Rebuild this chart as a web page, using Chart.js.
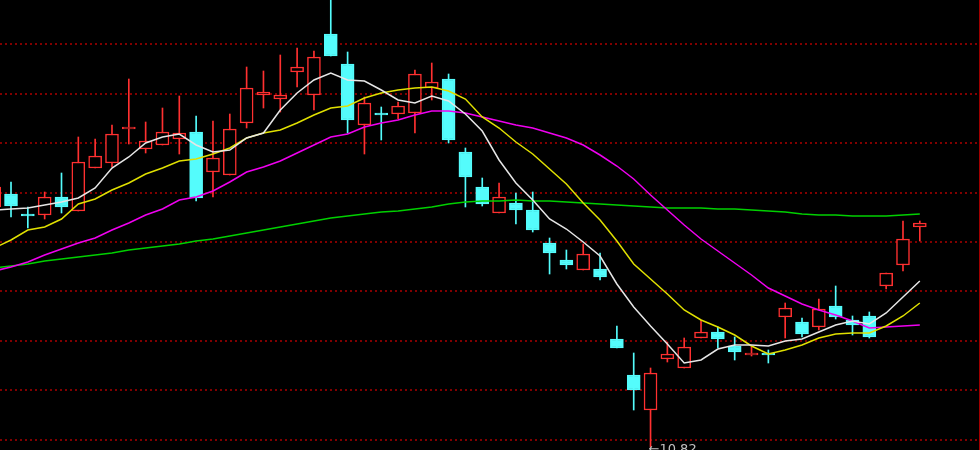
<!DOCTYPE html>
<html lang="zh">
<head>
<meta charset="UTF-8">
<title>K线图</title>
<script src="https://cdn.jsdelivr.net/npm/chart.js"></script>
<style>
  html, body { margin: 0; padding: 0; background: #000; }
  #wrap { width: 980px; height: 450px; position: relative; }
</style>
</head>
<body>
<div id="wrap"><canvas id="kline"></canvas></div>
<script>
// K线数据（第一根只露出一点边）
const opens  = [13.22,13.35,13.15,13.14,13.32,13.18,13.61,13.66,14.00,13.80,13.84,13.90,13.97,13.57,13.54,14.06,14.34,14.30,14.57,14.34,
                14.95,14.65,14.04,14.16,14.15,14.16,14.41,14.50,13.77,13.42,13.16,13.26,13.19,12.86,12.69,12.59,12.60,11.90,11.54,11.19,
                11.70,11.61,11.91,11.97,11.83,11.74,11.76,12.12,12.07,12.02,12.23,12.09,12.13,12.43,12.64,13.02];
const highs  = [13.47,13.47,13.22,13.37,13.56,13.92,13.90,14.04,14.50,14.07,14.21,14.33,14.13,14.08,14.15,14.62,14.58,14.74,14.81,14.78,
                15.29,14.77,14.32,14.22,14.27,14.59,14.66,14.55,13.81,13.51,13.46,13.36,13.37,12.91,12.79,12.85,12.76,12.03,11.76,11.61,
                11.87,11.91,12.09,12.02,11.92,11.82,11.79,12.26,12.11,12.30,12.43,12.13,12.17,12.56,13.08,13.08];
const lows   = [13.17,13.12,13.01,13.10,13.16,13.18,13.61,13.62,13.85,13.76,13.84,13.75,13.28,13.32,13.54,14.01,14.21,14.17,14.42,14.19,
                14.73,13.96,13.75,13.89,14.10,13.96,14.29,13.86,13.22,13.23,13.16,13.05,12.97,12.55,12.60,12.59,12.49,11.81,11.19,10.82,
                11.67,11.61,11.91,11.81,11.69,11.73,11.66,11.91,11.92,11.99,12.10,11.94,11.91,12.40,12.58,12.88];
const closes = [13.42,13.23,13.13,13.32,13.22,13.67,13.73,13.95,14.02,13.88,13.97,13.96,13.31,13.71,14.00,14.41,14.37,14.34,14.62,14.72,
                14.73,14.09,14.26,14.14,14.23,14.55,14.47,13.89,13.52,13.25,13.32,13.19,12.99,12.76,12.64,12.75,12.52,11.81,11.39,11.56,
                11.75,11.82,11.97,11.90,11.77,11.76,11.74,12.21,11.95,12.20,12.12,12.04,11.92,12.56,12.90,13.06];

// 均线
const ma5  = [13.19,13.20,13.21,13.24,13.27,13.31,13.41,13.61,13.72,13.86,13.92,13.95,13.84,13.77,13.79,13.91,13.96,14.19,14.36,14.49,
              14.56,14.49,14.48,14.39,14.29,14.26,14.33,14.28,14.15,13.98,13.69,13.46,13.29,13.10,13.00,12.87,12.73,12.45,12.22,12.03,
              11.85,11.66,11.69,11.80,11.84,11.84,11.83,11.88,11.90,11.97,12.04,12.08,12.05,12.16,12.32,12.48];
const ma10 = [12.81,12.89,12.99,13.02,13.10,13.25,13.30,13.39,13.46,13.55,13.61,13.68,13.70,13.75,13.81,13.91,13.96,13.99,14.06,14.14,
              14.21,14.23,14.31,14.36,14.39,14.41,14.42,14.38,14.30,14.12,14.01,13.87,13.75,13.60,13.45,13.26,13.09,12.88,12.65,12.50,
              12.35,12.19,12.09,12.02,11.94,11.83,11.75,11.79,11.84,11.91,11.95,11.96,11.96,12.03,12.13,12.26];
const ma20 = [12.58,12.62,12.67,12.74,12.80,12.86,12.91,12.99,13.06,13.14,13.20,13.29,13.32,13.38,13.47,13.57,13.62,13.68,13.76,13.84,
              13.92,13.95,14.02,14.06,14.09,14.14,14.18,14.18,14.16,14.12,14.08,14.04,14.01,13.96,13.91,13.84,13.74,13.63,13.50,13.34,
              13.19,13.04,12.90,12.78,12.66,12.54,12.41,12.33,12.25,12.19,12.14,12.08,12.01,12.02,12.03,12.04];
const ma60 = [12.61,12.63,12.65,12.68,12.70,12.72,12.74,12.76,12.79,12.81,12.83,12.85,12.88,12.90,12.93,12.96,12.99,13.02,13.05,13.08,
              13.11,13.13,13.15,13.17,13.18,13.20,13.22,13.25,13.27,13.28,13.28,13.29,13.28,13.28,13.27,13.26,13.25,13.24,13.23,13.22,
              13.21,13.21,13.21,13.20,13.20,13.19,13.18,13.17,13.15,13.14,13.14,13.13,13.13,13.13,13.14,13.15];

// 水平虚线所在价位
const gridLevels = [10.89, 11.39, 11.88, 12.38, 12.87, 13.36, 13.86, 14.35, 14.85];

const RED = '#ff3030';
const CYAN = '#54fcfc';

const days = opens.map((_, i) => i - 1);
const isUp = days.map((_, i) => closes[i] >= opens[i]);

const pts = arr => days.map((d, i) => ({ x: d, y: arr[i] }));
const maLine = (label, arr, color) => ({
    type: 'line', label, data: pts(arr), borderColor: color, borderWidth: 1.5,
    pointRadius: 0, tension: 0, fill: false
});

// 最低价标注
const lowMark = {
    id: 'lowMark',
    afterDatasetsDraw(chart) {
        const { ctx, scales } = chart;
        let k = 0;
        lows.forEach((v, i) => { if (v < lows[k]) k = i; });
        const x = scales.x.getPixelForValue(days[k]);
        const y = scales.y.getPixelForValue(lows[k]);
        ctx.save();
        ctx.fillStyle = '#c0c0c0';
        ctx.font = '13px "DejaVu Sans"';
        ctx.textBaseline = 'middle';
        ctx.fillText('←' + lows[k].toFixed(2), x - 2, y + 3);
        ctx.restore();
    }
};

// 右侧边框
const frame = {
    id: 'frame',
    afterDraw(chart) {
        const { ctx, chartArea } = chart;
        ctx.save();
        ctx.strokeStyle = '#a00000';
        ctx.lineWidth = 1;
        ctx.beginPath();
        ctx.moveTo(chartArea.right - 0.5, chartArea.top);
        ctx.lineTo(chartArea.right - 0.5, chartArea.bottom);
        ctx.stroke();
        ctx.restore();
    }
};

new Chart(document.getElementById('kline'), {
    type: 'bar',
    data: {
        datasets: [
            maLine('MA5', ma5, '#e6e6e6'),
            maLine('MA10', ma10, '#e0e000'),
            maLine('MA20', ma20, '#f000f0'),
            maLine('MA60', ma60, '#00d000'),
            {
                label: 'body',
                data: days.map((d, i) => ({ x: d, y: [opens[i], closes[i]] })),
                backgroundColor: isUp.map(u => u ? '#000000' : CYAN),
                borderColor: isUp.map(u => u ? RED : CYAN),
                borderWidth: 1.5,
                borderSkipped: false,
                barThickness: 13,
                grouped: false
            },
            {
                label: 'wick',
                data: days.map((d, i) => ({ x: d, y: [lows[i], highs[i]] })),
                backgroundColor: isUp.map(u => u ? RED : CYAN),
                borderWidth: 0,
                barThickness: 1,
                grouped: false
            }
        ]
    },
    options: {
        responsive: true,
        maintainAspectRatio: false,
        animation: false,
        layout: { padding: 0 },
        plugins: { legend: { display: false }, tooltip: { enabled: false } },
        scales: {
            x: { type: 'linear', min: -0.654, max: 57.576, offset: false, bounds: 'data', display: false },
            y: {
                min: 10.79, max: 15.29,
                ticks: { display: false },
                grid: { color: '#800000', lineWidth: 2, drawTicks: false },
                border: { display: false, dash: [2, 3] },
                afterBuildTicks: s => { s.ticks = gridLevels.map(v => ({ value: v })); }
            }
        }
    },
    plugins: [lowMark, frame]
});
</script>
</body>
</html>
